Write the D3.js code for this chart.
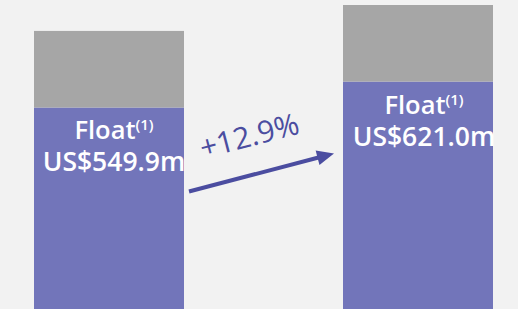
<!DOCTYPE html>
<html>
<head>
<meta charset="utf-8">
<script src="https://cdn.jsdelivr.net/npm/d3@7"></script>
<style>
  html, body { margin: 0; padding: 0; background: #f2f2f2; }
  svg { display: block; }
</style>
</head>
<body>
<div id="chart"></div>
<script>
// data
var categories = ["Prior", "Current"];
var floatValues = [549.9, 621.0];
var otherValues = [210, 210];
var floatLabels = ["US$549.9m", "US$621.0m"];
var growthLabel = "+12.9%";

var W = 518, H = 309;
var FONT = "'Open Sans', sans-serif";

var svg = d3.select("#chart").append("svg")
  .attr("width", W)
  .attr("height", H);

svg.append("rect").attr("width", W).attr("height", H).attr("fill", "#f2f2f2");

var x = d3.scaleBand()
  .domain(categories)
  .range([34, 493])
  .paddingInner(159 / 309)
  .paddingOuter(0);

var y = d3.scaleLinear()
  .domain([0, 621.0 + 210])
  .range([308, 5]);

var rows = categories.map(function(c, i) {
  return { cat: c, float: floatValues[i], other: otherValues[i], label: floatLabels[i] };
});

// float part (purple)
svg.selectAll(".float")
  .data(rows)
  .enter().append("rect")
  .attr("class", "float")
  .attr("x", function(d) { return x(d.cat); })
  .attr("width", x.bandwidth())
  .attr("y", function(d) { return y(d.float); })
  .attr("height", function(d) { return y(0) - y(d.float) + 2; })
  .attr("fill", "#7275ba");

// grey part on top
svg.selectAll(".other")
  .data(rows)
  .enter().append("rect")
  .attr("class", "other")
  .attr("x", function(d) { return x(d.cat); })
  .attr("width", x.bandwidth())
  .attr("y", function(d) { return y(d.float + d.other); })
  .attr("height", function(d) { return y(d.float) - y(d.float + d.other); })
  .attr("fill", "#a6a6a6");

// labels
var labelShift = [5, 6];
var lab = svg.selectAll(".lab")
  .data(rows)
  .enter().append("g")
  .attr("class", "lab")
  .attr("transform", function(d, i) {
    return "translate(" + (x(d.cat) + x.bandwidth() / 2 + labelShift[i]) + "," + (y(d.float) + 32) + ")";
  });

var t1 = lab.append("text")
  .attr("text-anchor", "middle")
  .attr("fill", "#ffffff")
  .attr("font-family", FONT)
  .attr("font-weight", 600)
  .attr("font-size", 25.5);
t1.append("tspan").text("Float");
t1.append("tspan").attr("font-size", 15).attr("dy", -9).text("(1)");

lab.append("text")
  .attr("y", 32)
  .attr("text-anchor", "middle")
  .attr("fill", "#ffffff")
  .attr("font-family", FONT)
  .attr("font-weight", 600)
  .attr("font-size", 26.5)
  .text(function(d) { return d.label; });

// arrow
var ax0 = x(categories[0]) + x.bandwidth() + 5, ay0 = 191.5;
var ax1 = x(categories[1]) - 9, ay1 = 153.5;
var ang = Math.atan2(ay1 - ay0, ax1 - ax0);
var headLen = 17, headW = 7.5;
var bx = ax1 - headLen * Math.cos(ang), by = ay1 - headLen * Math.sin(ang);

svg.append("line")
  .attr("x1", ax0).attr("y1", ay0)
  .attr("x2", bx + 2 * Math.cos(ang)).attr("y2", by + 2 * Math.sin(ang))
  .attr("stroke", "#4b4da0")
  .attr("stroke-width", 4);

svg.append("polygon")
  .attr("points", [
    [ax1, ay1],
    [bx - headW * Math.sin(ang), by + headW * Math.cos(ang)],
    [bx + headW * Math.sin(ang), by - headW * Math.cos(ang)]
  ].map(function(p) { return p.join(","); }).join(" "))
  .attr("fill", "#4b4da0");

svg.append("text")
  .attr("transform", "translate(252,146) rotate(" + (ang * 180 / Math.PI) + ")")
  .attr("text-anchor", "middle")
  .attr("fill", "#4b4da0")
  .attr("font-family", FONT)
  .attr("font-size", 30)
  .text(growthLabel);
</script>
</body>
</html>
